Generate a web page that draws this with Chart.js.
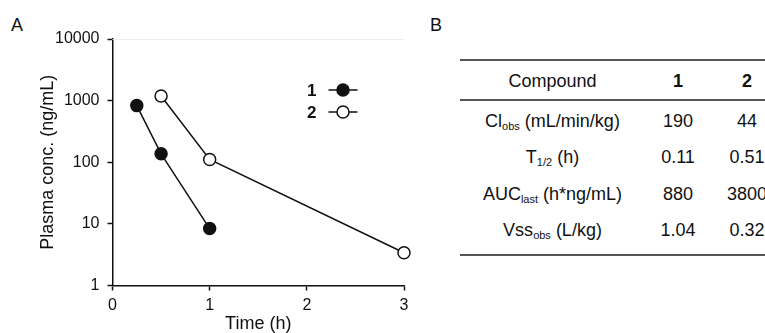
<!DOCTYPE html>
<html>
<head>
<meta charset="utf-8">
<script src="https://cdn.jsdelivr.net/npm/chart.js@4.4.1/dist/chart.umd.min.js"></script>
<style>
  html, body { margin:0; padding:0; background:#fff; width:765px; height:333px; overflow:hidden; }
  body { font-family: "Liberation Sans", Arial, Helvetica, sans-serif; color:#111; position:relative; }
  #wrap { position:absolute; left:0; top:0; width:430px; height:333px; }
  .panel { position:absolute; font-size:18px; }
  #tbl { position:absolute; left:460px; top:59px; border-collapse:collapse; table-layout:fixed; width:323px; font-size:18px; }
  #tbl th, #tbl td { text-align:center; padding:0; white-space:nowrap; box-sizing:content-box; }
  #tbl thead th { font-weight:normal; height:36px; border-top:2px solid #555; border-bottom:2px solid #555; padding-top:2px; }
  #tbl thead th.b { font-weight:bold; }
  #tbl tbody td { height:36.5px; }
  #tbl tbody tr:first-child td { padding-top:2px; }
  #tbl tbody tr:last-child td { border-bottom:2px solid #555; padding-bottom:5px; }
  sub { font-size:11px; vertical-align:-3px; line-height:0; }
</style>
</head>
<body>
<div class="panel" style="left:11px; top:15px;">A</div>
<div class="panel" style="left:430px; top:15px;">B</div>
<div id="wrap"><canvas id="c"></canvas></div>
<table id="tbl">
  <colgroup><col style="width:185px"><col style="width:66px"><col style="width:72px"></colgroup>
  <thead><tr id="hdr"></tr></thead>
  <tbody id="tb"></tbody>
</table>
<script>
// ---- Panel A data ----
const seriesNames = ['1', '2'];
const times1 = [0.25, 0.5, 1];
const conc1 = [830, 137, 8.4];
const times2 = [0.5, 1, 3];
const conc2 = [1190, 111, 3.4];
const yTickValues = [1, 10, 100, 1000, 10000];
const xTickValues = [0, 1, 2, 3];

// ---- Panel B data ----
const tableHeader = ['Compound', '1', '2'];
const rowLabels = [
  'Cl<sub>obs</sub> (mL/min/kg)',
  'T<sub>1/2</sub> (h)',
  'AUC<sub>last</sub> (h*ng/mL)',
  'Vss<sub>obs</sub> (L/kg)'
];
const compound1Values = ['190', '0.11', '880', '1.04'];
const compound2Values = ['44', '0.51', '3800', '0.32'];

// build table
const hdr = document.getElementById('hdr');
tableHeader.forEach((h, i) => {
  const th = document.createElement('th');
  th.textContent = h;
  if (i > 0) th.className = 'b';
  hdr.appendChild(th);
});
const tb = document.getElementById('tb');
rowLabels.forEach((lab, i) => {
  const tr = document.createElement('tr');
  tr.innerHTML = '<td>' + lab + '</td><td>' + compound1Values[i] + '</td><td>' + compound2Values[i] + '</td>';
  tb.appendChild(tr);
});

const FONT = '"Liberation Sans", Arial, Helvetica, sans-serif';

const toPts = (xs, ys) => xs.map((x, i) => ({x: x, y: ys[i]}));

const legendPlugin = {
  id: 'customLegend',
  afterDatasetsDraw(chart) {
    const {ctx, chartArea} = chart;
    ctx.save();
    chart.data.datasets.forEach((ds, i) => {
      const y = chartArea.top + 51 + i * 22;
      const tx = chartArea.left + 204;
      ctx.font = 'bold 17px ' + FONT;
      ctx.fillStyle = '#111';
      ctx.textAlign = 'right';
      ctx.textBaseline = 'middle';
      ctx.fillText(ds.label, tx, y + 1);
      const lx0 = chartArea.left + 216, lx1 = chartArea.left + 245, cx = chartArea.left + 230.5;
      ctx.strokeStyle = ds.borderColor;
      ctx.lineWidth = 1.5;
      ctx.beginPath(); ctx.moveTo(lx0, y); ctx.lineTo(lx1, y); ctx.stroke();
      ctx.beginPath(); ctx.arc(cx, y, ds.pointRadius, 0, Math.PI * 2);
      ctx.fillStyle = ds.pointBackgroundColor; ctx.fill();
      ctx.lineWidth = ds.pointBorderWidth; ctx.strokeStyle = ds.pointBorderColor; ctx.stroke();
    });
    ctx.restore();
  }
};

const topLinePlugin = {
  id: 'topLine',
  beforeDatasetsDraw(chart) {
    const {ctx, chartArea} = chart;
    ctx.save();
    ctx.strokeStyle = '#ececec';
    ctx.lineWidth = 1;
    ctx.beginPath();
    ctx.moveTo(chartArea.left, chartArea.top + 0.5);
    ctx.lineTo(chartArea.right, chartArea.top + 0.5);
    ctx.stroke();
    ctx.restore();
  }
};

const common = {
  showLine: true,
  clip: false,
  borderColor: '#111',
  borderWidth: 1.5,
  pointRadius: 6,
  pointHoverRadius: 6,
  pointBorderColor: '#111',
  pointBorderWidth: 1.5,
  tension: 0
};

new Chart(document.getElementById('c'), {
  type: 'scatter',
  data: {
    datasets: [
      Object.assign({}, common, { label: seriesNames[0], data: toPts(times1, conc1), pointBackgroundColor: '#111' }),
      Object.assign({}, common, { label: seriesNames[1], data: toPts(times2, conc2), pointBackgroundColor: '#fff' })
    ]
  },
  options: {
    responsive: true,
    maintainAspectRatio: false,
    animation: false,
    devicePixelRatio: 1,
    layout: { padding: { top: 39, right: 26, bottom: 0, left: 0 } },
    plugins: { legend: { display: false }, tooltip: { enabled: false } },
    scales: {
      x: {
        type: 'linear',
        min: 0, max: 3,
        afterBuildTicks: s => { s.ticks = xTickValues.map(v => ({value: v})); },
        afterFit: s => { s.height = 47.5; },
        ticks: { color: '#111', font: { family: FONT, size: 16 }, padding: 5, callback: v => String(v) },
        grid: { drawOnChartArea: false, drawTicks: true, tickLength: 5, tickColor: '#111', tickWidth: 1.5 },
        border: { display: true, color: '#111', width: 1.5 },
        title: { display: true, text: 'Time (h)', color: '#111', font: { family: FONT, size: 18, lineHeight: 1 }, padding: { top: 0, bottom: 0 } }
      },
      y: {
        type: 'logarithmic',
        min: 1, max: 10000,
        afterBuildTicks: s => { s.ticks = yTickValues.map(v => ({value: v})); },
        afterFit: s => { s.width = 112.5; },
        ticks: { color: '#111', font: { family: FONT, size: 16 }, padding: 8, callback: v => String(v) },
        grid: { drawOnChartArea: false, drawTicks: true, tickLength: 5, tickColor: '#111', tickWidth: 1.5 },
        border: { display: true, color: '#111', width: 1.5 },
        title: { display: true, text: 'Plasma conc. (ng/mL)', color: '#111', font: { family: FONT, size: 18, lineHeight: 1 }, padding: { top: 39, bottom: 0 } }
      }
    }
  },
  plugins: [topLinePlugin, legendPlugin]
});
</script>
</body>
</html>
